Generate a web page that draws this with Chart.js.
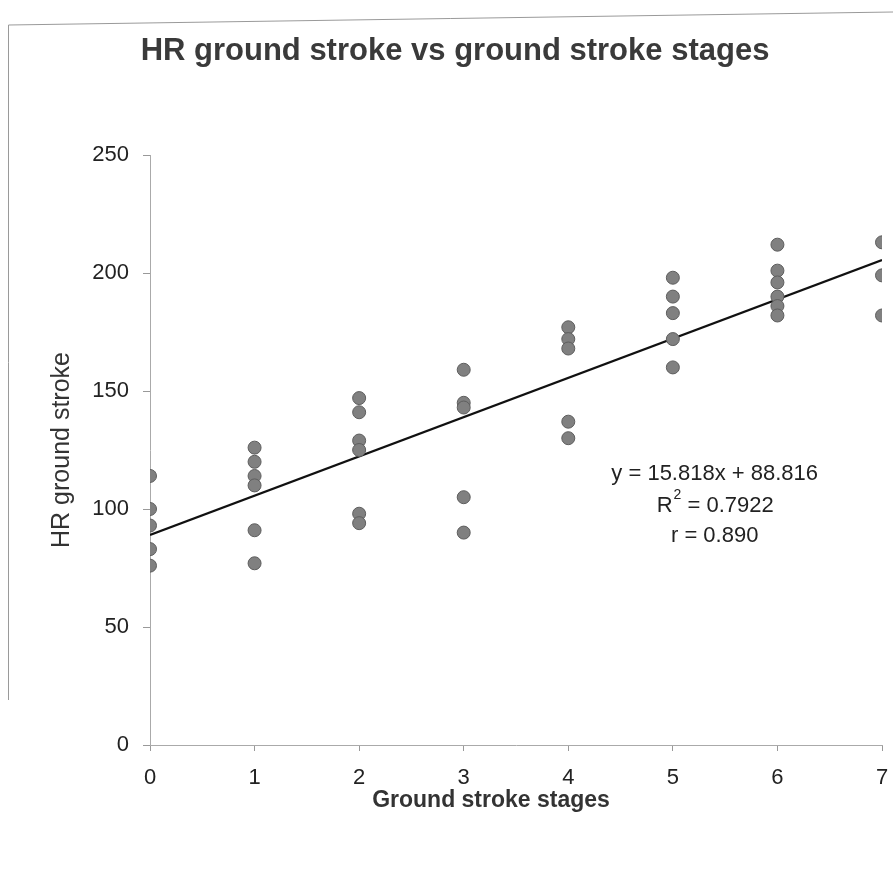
<!DOCTYPE html>
<html lang="en">
<head>
    <meta charset="UTF-8">
    <title>HR ground stroke vs ground stroke stages</title>
    <script src="https://cdn.jsdelivr.net/npm/chart.js"></script>
    <style>
        html, body { margin: 0; padding: 0; background: #fff; }
        #wrap { width: 893px; height: 884px; }
    </style>
</head>
<body>
<div id="wrap"><canvas id="grafico" width="893" height="884"></canvas></div>
<script>
    // stages on the x axis and the HR readings at each stage
    const stages = [0, 1, 2, 3, 4, 5, 6, 7];
    const hrStage0 = [114, 100, 93, 83, 76];
    const hrStage1 = [126, 120, 114, 110, 91, 77];
    const hrStage2 = [147, 141, 129, 125, 98, 94];
    const hrStage3 = [159, 145, 143, 105, 90];
    const hrStage4 = [177, 172, 168, 137, 130];
    const hrStage5 = [198, 190, 183, 172, 160];
    const hrStage6 = [212, 201, 196, 190, 186, 182];
    const hrStage7 = [213, 199, 182];
    const hrByStage = [hrStage0, hrStage1, hrStage2, hrStage3, hrStage4, hrStage5, hrStage6, hrStage7];

    // trend line as drawn in the picture
    const trendX = [0, 7];
    const trendY = [89, 205.5];
    const yTicks = [0, 50, 100, 150, 200, 250];
    const annotation = ["y = 15.818x + 88.816", "R² = 0.7922", "r = 0.890"];

    const pontos = [];
    stages.forEach((s, i) => hrByStage[i].forEach(v => pontos.push({ x: s, y: v })));
    const linha = trendX.map((x, i) => ({ x: x, y: trendY[i] }));

    const FONTE = "'Liberation Sans', Arial, sans-serif";

    // title, frame, x axis title and the regression text
    const extras = {
        id: 'extras',
        beforeDraw(chart) {
            const c = chart.ctx;
            c.save();
            c.fillStyle = '#fff';
            c.fillRect(0, 0, chart.width, chart.height);
            c.strokeStyle = '#9a9a9a';
            c.lineWidth = 1;
            c.beginPath();
            c.moveTo(8.5, 700);
            c.lineTo(8.5, 25);
            c.lineTo(893, 12);
            c.stroke();
            c.restore();
        },
        afterDraw(chart) {
            const c = chart.ctx;
            const xs = chart.scales.x, ys = chart.scales.y;
            c.save();
            c.fillStyle = '#3a3a3a';
            c.font = 'bold 31px ' + FONTE;
            c.textAlign = 'center';
            c.textBaseline = 'middle';
            c.fillText('HR ground stroke vs ground stroke stages', 455, 51);

            c.fillStyle = '#333';
            c.font = 'bold 23px ' + FONTE;
            c.fillText('Ground stroke stages', 491, 801);

            c.fillStyle = '#222';
            c.font = '22px ' + FONTE;
            const cx = xs.getPixelForValue(5.4);
            const y0 = ys.getPixelForValue(115);
            c.fillText(annotation[0], cx, y0);
            // R² line with a raised 2
            const partes = annotation[1].split('²');
            const wR = c.measureText(partes[0]).width;
            c.font = '14px ' + FONTE;
            const w2 = c.measureText('2').width;
            c.font = '22px ' + FONTE;
            const wResto = c.measureText(partes[1]).width;
            let x = cx - (wR + w2 + wResto) / 2;
            c.textAlign = 'left';
            c.fillText(partes[0], x, y0 + 32);
            c.font = '14px ' + FONTE;
            c.fillText('2', x + wR + 1, y0 + 22);
            c.font = '22px ' + FONTE;
            c.fillText(partes[1], x + wR + w2 + 1, y0 + 32);
            c.textAlign = 'center';
            c.fillText(annotation[2], cx, y0 + 62);
            c.restore();
        }
    };

    new Chart(document.getElementById('grafico'), {
        type: 'scatter',
        data: {
            datasets: [{
                label: 'HR ground stroke',
                data: pontos,
                backgroundColor: '#808080',
                borderColor: '#5e5e5e',
                borderWidth: 1,
                pointRadius: 6.5,
                order: 1
            }, {
                type: 'line',
                label: 'Linear',
                data: linha,
                borderColor: '#111',
                borderWidth: 2.2,
                pointRadius: 0,
                fill: false,
                order: 2
            }]
        },
        options: {
            responsive: false,
            animation: false,
            layout: { padding: { top: 155, right: 11, left: 0, bottom: 0 } },
            plugins: {
                legend: { display: false },
                tooltip: { enabled: false }
            },
            scales: {
                x: {
                    type: 'linear',
                    min: 0, max: 7,
                    afterFit(s) { s.height = 139; s.paddingLeft = 0; s.paddingRight = 0; },
                    ticks: { stepSize: 1, color: '#222', padding: 14, maxRotation: 0, font: { family: FONTE, size: 22 } },
                    grid: { drawOnChartArea: false, tickLength: 6, color: '#999' },
                    border: { display: true, color: '#aaa', dash: [3, 3], width: 1 }
                },
                y: {
                    min: 0, max: 250,
                    afterFit(s) { s.width = 150; s.paddingTop = 0; s.paddingBottom = 0; },
                    afterBuildTicks(s) { s.ticks = yTicks.map(v => ({ value: v })); },
                    ticks: { color: '#222', padding: 14, font: { family: FONTE, size: 22 } },
                    grid: { drawOnChartArea: false, tickLength: 7, color: '#999' },
                    border: { display: true, color: '#aaa', dash: [3, 3], width: 1 },
                    title: {
                        display: true,
                        text: 'HR ground stroke',
                        color: '#333',
                        font: { family: FONTE, size: 25 },
                        padding: { top: 47, bottom: 0 }
                    }
                }
            }
        },
        plugins: [extras]
    });
</script>
</body>
</html>
